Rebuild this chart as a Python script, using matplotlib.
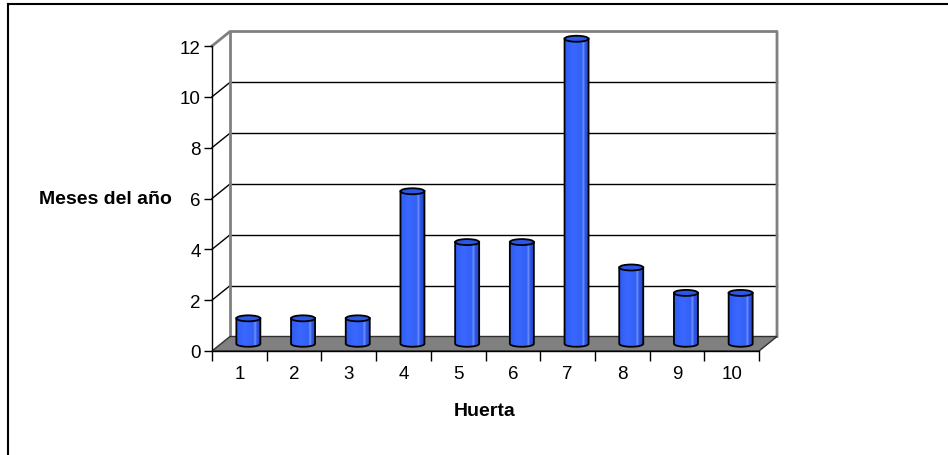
import numpy as np
import matplotlib.pyplot as plt
from matplotlib.patches import Polygon, Ellipse
from matplotlib.lines import Line2D
from matplotlib.colors import LinearSegmentedColormap

plt.rcParams['font.family'] = ['Liberation Sans', 'DejaVu Sans']

# data
huertas = ['1', '2', '3', '4', '5', '6', '7', '8', '9', '10']
meses = [1, 1, 1, 6, 4, 4, 12, 3, 2, 2]
y_ticks = [0, 2, 4, 6, 8, 10, 12]

fig = plt.figure(figsize=(9.48, 4.56), dpi=100)
W, H = 948, 456

# front plane of the plot area in pixels
x0, x1 = 212, 759
y_top, y_bot = 47, 352
ax = fig.add_axes([x0 / W, (H - y_bot) / H, (x1 - x0) / W, (y_bot - y_top) / H])
ax.patch.set_alpha(0)

# depth offset of the back wall, converted to data units
px_x = 10 / (x1 - x0)
px_y = 12 / (y_bot - y_top)
DX, DY = 18 * px_x, 14.5 * px_y
n = len(huertas)
xl, xr = 0.5, n + 0.5
gray = '#808080'

# back wall
ax.add_patch(Polygon([(xl + DX, DY), (xr + DX, DY), (xr + DX, 12 + DY), (xl + DX, 12 + DY)],
                     closed=True, facecolor='white', edgecolor='none', zorder=0, clip_on=False))
for v in y_ticks[1:-1]:
    ax.plot([xl + DX, xr + DX], [v + DY, v + DY], color='black', lw=1, zorder=1, clip_on=False)
    ax.plot([xl, xl + DX], [v, v + DY], color='black', lw=1, zorder=1, clip_on=False)
ax.plot([xl, xl + DX, xr + DX, xr + DX], [12, 12 + DY, 12 + DY, DY],
        color=gray, lw=2, zorder=1, clip_on=False, solid_capstyle='projecting')
ax.plot([xl + DX, xl + DX], [DY, 12 + DY], color=gray, lw=2, zorder=1, clip_on=False)

# floor
ax.add_patch(Polygon([(xl, 0), (xr, 0), (xr + DX, DY), (xl + DX, DY)], closed=True,
                     facecolor=gray, edgecolor='#303030', lw=1, zorder=2, clip_on=False))

# cylinders
w = 24 * px_x
e = 6 * px_y
cyl_cmap = LinearSegmentedColormap.from_list(
    'cyl', [(0, '#2f5cf0'), (0.35, '#3a68ff'), (0.7, '#3360f5'),
            (0.78, '#6f92ff'), (0.84, '#3058e6'), (1, '#2447c8')])
t = np.linspace(np.pi, 2 * np.pi, 40)
for i, v in enumerate(meses):
    cx = i + 1 + DX / 2
    yb = DY / 2
    yt = v + DY / 2
    pts = [(cx - w / 2, yt)]
    pts += list(zip(cx + w / 2 * np.cos(t), yb + e / 2 * np.sin(t)))
    pts += [(cx + w / 2, yt)]
    body = Polygon(pts, closed=True, facecolor='none', edgecolor='black', lw=1.3,
                   zorder=4, clip_on=False)
    ax.add_patch(body)
    im = ax.imshow(np.linspace(0, 1, 50)[None, :], cmap=cyl_cmap, aspect='auto',
                   extent=(cx - w / 2, cx + w / 2, yb - e, yt + e), zorder=3,
                   interpolation='bilinear')
    im.set_clip_box(fig.bbox)
    im.set_clip_path(body)
    ax.add_patch(Ellipse((cx, yt), w, e, facecolor='#2b56e6', edgecolor='black',
                         lw=1.3, zorder=5, clip_on=False))
ax.set_xlim(0.5, 10.5)
ax.set_ylim(0, 12)

# axes, ticks
for s in ['top', 'right']:
    ax.spines[s].set_visible(False)
for s in ['left', 'bottom']:
    ax.spines[s].set_color('black')
    ax.spines[s].set_linewidth(1)
    ax.spines[s].set_zorder(6)
ax.set_yticks(y_ticks)
ax.set_yticklabels([str(v) for v in y_ticks])
ax.set_xticks(np.arange(1, n + 1))
ax.set_xticklabels(huertas)
ax.set_xticks(np.arange(0.5, n + 1), minor=True)
ax.tick_params(axis='x', which='major', length=0, pad=10, labelsize=13.5)
ax.tick_params(axis='x', which='minor', length=7, width=1, color='black', direction='out')
ax.tick_params(axis='y', length=6, width=1, color='black', direction='out', pad=2, labelsize=13.5)

# axis titles
fig.text(172 / W, 1 - 200 / H, 'Meses del año', ha='right', va='center',
         fontsize=14, fontweight='bold')
fig.text(485 / W, 1 - 412 / H, 'Huerta', ha='center', va='center',
         fontsize=14, fontweight='bold')

# chart area border
fig.add_artist(Line2D([8 / W, 8 / W], [0, 1 - 5 / H], color='black', lw=1.5))
fig.add_artist(Line2D([8 / W, 1], [1 - 5 / H, 1 - 5 / H], color='black', lw=1.5))

fig.savefig('out.png', dpi=100)
